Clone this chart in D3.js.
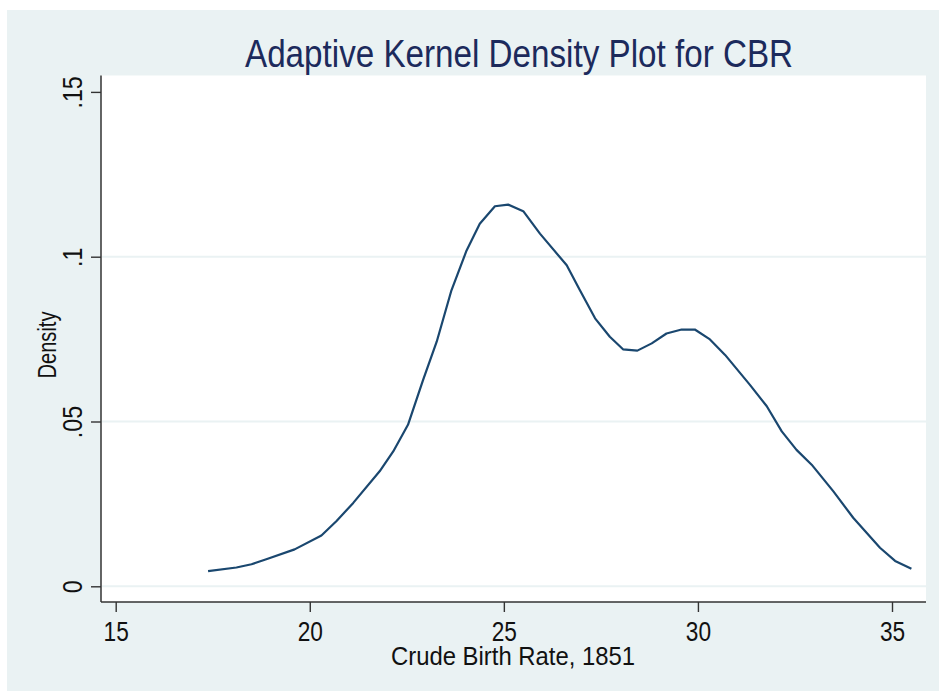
<!DOCTYPE html>
<html>
<head>
<meta charset="utf-8">
<script src="https://cdn.jsdelivr.net/npm/d3@7"></script>
<style>
body { margin: 0; background: #ffffff; }
text { font-family: "Liberation Sans", Arial, sans-serif; }
</style>
</head>
<body>
<div id="canvas"></div>
<script>
// ----------------------------------------------------------
// DATA -----------------------------------------------------
// ----------------------------------------------------------
var cbr = [17.38, 18.11, 18.50, 18.88, 19.61, 20.30, 20.69, 21.12, 21.80, 22.15,
  22.53, 22.92, 23.27, 23.65, 24.04, 24.38, 24.77, 25.11, 25.50, 25.93,
  26.62, 26.96, 27.35, 27.73, 28.07, 28.44, 28.81, 29.19, 29.58, 29.92,
  30.31, 30.70, 31.34, 31.77, 32.16, 32.54, 32.93, 33.49, 34.00, 34.69,
  35.08, 35.50];
var density = [0.0046, 0.0057, 0.0067, 0.0082, 0.0112, 0.0154, 0.0198, 0.0253, 0.0349, 0.0409,
  0.0490, 0.0626, 0.0742, 0.0898, 0.1019, 0.1100, 0.1153, 0.1158, 0.1138, 0.1070,
  0.0974, 0.0898, 0.0813, 0.0757, 0.0719, 0.0715, 0.0737, 0.0767, 0.0779, 0.0779,
  0.0749, 0.0702, 0.0611, 0.0547, 0.0470, 0.0414, 0.0369, 0.0288, 0.0208, 0.0117,
  0.0077, 0.0053];
var x_ticks = [15, 20, 25, 30, 35];
var y_ticks = [0, 0.05, 0.1, 0.15];
var y_tick_labels = ["0", ".05", ".1", ".15"];
var y_grid = [0, 0.05, 0.1];

var text_title = "Adaptive Kernel Density Plot for CBR";
var text_x = "Crude Birth Rate, 1851";
var text_y = "Density";

// ----------------------------------------------------------
// SETUP ----------------------------------------------------
// ----------------------------------------------------------
var W = 939, H = 691;
var plot = { left: 101, top: 75.5, right: 926, bottom: 602 };

var svg = d3.select("#canvas").append("svg")
.attr("width", W)
.attr("height", H);

// outer graph region
svg.append("rect")
.attr("x", 7).attr("y", 10)
.attr("width", W - 7).attr("height", H - 10)
.style("fill", "#eaf2f3");

// plot region
svg.append("rect")
.attr("x", plot.left).attr("y", plot.top)
.attr("width", plot.right - plot.left).attr("height", plot.bottom - plot.top)
.style("fill", "#ffffff");

var x = d3.scaleLinear().domain([15, 35]).range([115.7, 892]);
var y = d3.scaleLinear().domain([0, 0.15]).range([586.3, 91.9]);

// squeeze text to look like the condensed stata font
function squeeze(sel, f) {
  sel.each(function() {
    var len = this.getComputedTextLength();
    d3.select(this).attr("textLength", len * f).attr("lengthAdjust", "spacingAndGlyphs");
  });
}

// ----------------------------------------------------------
// GRID -----------------------------------------------------
// ----------------------------------------------------------
svg.append("g").selectAll("line")
.data(y_grid).enter().append("line")
.attr("x1", plot.left + 1).attr("x2", plot.right)
.attr("y1", function(d) { return y(d); })
.attr("y2", function(d) { return y(d); })
.style("stroke", "#eaf2f3")
.style("stroke-width", 2);

// ----------------------------------------------------------
// AXES -----------------------------------------------------
// ----------------------------------------------------------
var xAxis = svg.append("g")
.attr("transform", "translate(0," + plot.bottom + ")")
.call(d3.axisBottom(x).tickValues(x_ticks).tickSize(10).tickPadding(10).tickSizeOuter(0));
xAxis.select(".domain").remove();
xAxis.selectAll(".tick line").style("stroke", "#333333").style("stroke-width", 1.4);
xAxis.selectAll(".tick text")
.style("font-size", "27px")
.style("fill", "#111111")
.call(squeeze, 0.84);

var yAxis = svg.append("g")
.attr("transform", "translate(" + plot.left + ",0)")
.call(d3.axisLeft(y).tickValues(y_ticks).tickSize(10).tickFormat(function(d, i) { return y_tick_labels[i]; }));
yAxis.select(".domain").remove();
yAxis.selectAll(".tick line").style("stroke", "#333333").style("stroke-width", 1.4);
yAxis.selectAll(".tick text")
.attr("x", null).attr("dy", null)
.attr("text-anchor", "middle")
.attr("transform", "translate(-19.5,0) rotate(-90)")
.style("font-size", "27px")
.style("fill", "#111111")
.call(squeeze, 0.86);

// axis lines
svg.append("line")
.attr("x1", plot.left).attr("x2", plot.right)
.attr("y1", plot.bottom).attr("y2", plot.bottom)
.style("stroke", "#333333").style("stroke-width", 1.5);
svg.append("line")
.attr("x1", plot.left).attr("x2", plot.left)
.attr("y1", plot.top).attr("y2", plot.bottom)
.style("stroke", "#333333").style("stroke-width", 1.5);

// ----------------------------------------------------------
// GFX ------------------------------------------------------
// ----------------------------------------------------------
var line = d3.line()
.x(function(d, i) { return x(cbr[i]); })
.y(function(d) { return y(d); });

svg.append("path")
.datum(density)
.attr("d", line)
.style("fill", "none")
.style("stroke", "#1a476f")
.style("stroke-width", 2.2)
.style("stroke-linejoin", "round");

// ----------------------------------------------------------
// TEXT -----------------------------------------------------
// ----------------------------------------------------------
svg.append("text")
.attr("x", 519).attr("y", 67)
.attr("text-anchor", "middle")
.attr("textLength", 548).attr("lengthAdjust", "spacingAndGlyphs")
.style("font-size", "38px")
.style("fill", "#1c2a5c")
.text(text_title);

svg.append("text")
.attr("x", 513).attr("y", 665)
.attr("text-anchor", "middle")
.attr("textLength", 244).attr("lengthAdjust", "spacingAndGlyphs")
.style("font-size", "26px")
.style("fill", "#111111")
.text(text_x);

svg.append("text")
.attr("transform", "translate(56,345) rotate(-90)")
.attr("text-anchor", "middle")
.attr("textLength", 67).attr("lengthAdjust", "spacingAndGlyphs")
.style("font-size", "26px")
.style("fill", "#111111")
.text(text_y);
</script>
</body>
</html>
